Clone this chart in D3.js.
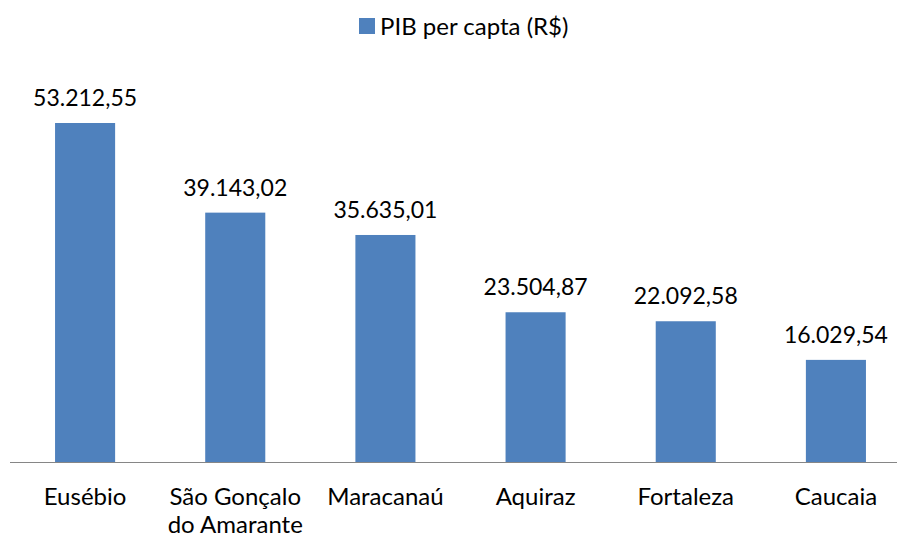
<!DOCTYPE html>
<html><head><meta charset="utf-8">
<script src="https://cdn.jsdelivr.net/npm/d3@7"></script>
<style>body{margin:0;background:#fff}svg{display:block}text{font-family:Lato,"Open Sans",sans-serif;fill:#000}</style>
</head><body><svg id="c" width="897" height="539"></svg>
<script>
const categories = [["Eusébio"], ["São Gonçalo", "do Amarante"], ["Maracanaú"], ["Aquiraz"], ["Fortaleza"], ["Caucaia"]];
const values = [53212.55, 39143.02, 35635.01, 23504.87, 22092.58, 16029.54];
const valueLabels = ["53.212,55", "39.143,02", "35.635,01", "23.504,87", "22.092,58", "16.029,54"];
const seriesName = "PIB per capta (R$)";

const svg = d3.select("#c");
const color = "#4F81BD";
const x = d3.scaleBand().domain(d3.range(values.length)).range([10, 911]).paddingInner(0.6).paddingOuter(0.3);
const y = d3.scaleLinear().domain([0, 53212.55]).range([462, 123]);

svg.selectAll("rect.bar").data(values).enter().append("rect")
  .attr("x", (d, i) => x(i)).attr("width", x.bandwidth())
  .attr("y", d => y(d)).attr("height", d => y(0) - y(d)).attr("fill", color);

svg.append("line").attr("x1", 10).attr("x2", 897).attr("y1", 462.5).attr("y2", 462.5)
  .attr("stroke", "#868686").attr("stroke-width", 1.2);

svg.selectAll("text.val").data(values).enter().append("text")
  .attr("x", (d, i) => x(i) + x.bandwidth() / 2).attr("y", d => y(d) - 17)
  .attr("text-anchor", "middle").attr("font-size", 23).text((d, i) => valueLabels[i]);

categories.forEach((lines, i) => {
  const t = svg.append("text").attr("text-anchor", "middle").attr("font-size", 24)
    .attr("x", x(i) + x.bandwidth() / 2).attr("y", 505);
  lines.forEach((l, j) => t.append("tspan").attr("x", x(i) + x.bandwidth() / 2).attr("dy", j ? 28 : 0).text(l));
});

svg.append("rect").attr("x", 359).attr("y", 18).attr("width", 16).attr("height", 16).attr("fill", color);
svg.append("text").attr("x", 380).attr("y", 35).attr("font-size", 24).text(seriesName);
</script></body></html>
